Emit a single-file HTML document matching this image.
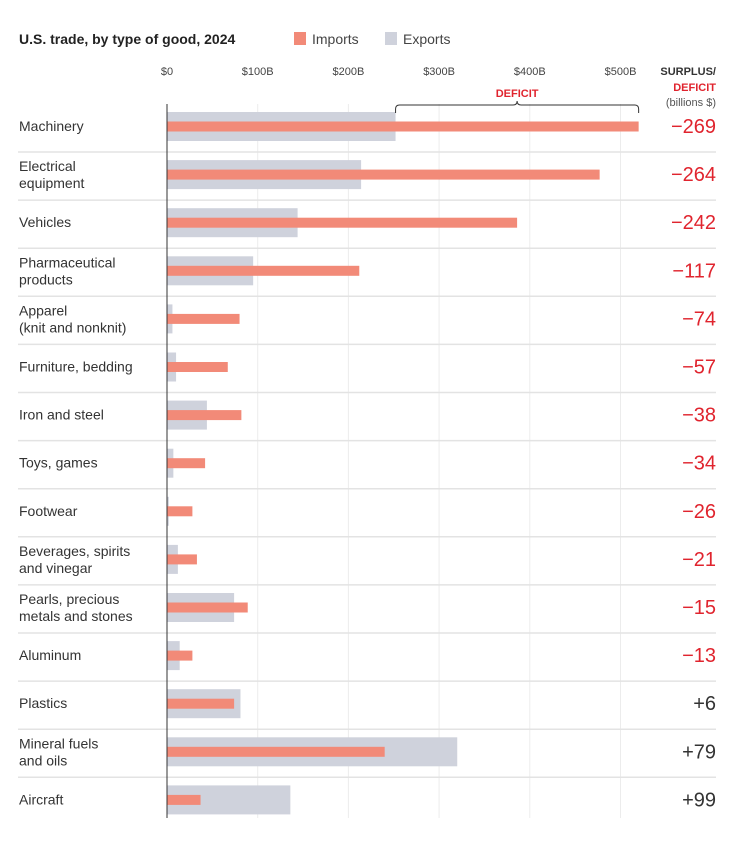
<!DOCTYPE html>
<html><head><meta charset="utf-8">
<style>
body{margin:0;background:#fff;width:749px;height:843px;overflow:hidden;font-family:"Liberation Sans",sans-serif;}
svg text{font-family:"Liberation Sans",sans-serif;}
</style></head>
<body>
<svg id="chart" width="749" height="843" viewBox="0 0 749 843">
<text x="19" y="44" font-size="14" font-weight="bold" fill="#222">U.S. trade, by type of good, 2024</text>
<rect x="294" y="32" width="12" height="13" fill="#f28a78"/>
<text x="312" y="44" font-size="14" fill="#444">Imports</text>
<rect x="385" y="32" width="12" height="13" fill="#cfd2dc"/>
<text x="403" y="44" font-size="14" fill="#444">Exports</text>
<text x="716" y="75" font-size="11" font-weight="bold" text-anchor="end" fill="#333">SURPLUS/</text>
<text x="716" y="91" font-size="11" font-weight="bold" text-anchor="end" fill="#e0242e">DEFICIT</text>
<text x="716" y="106" font-size="11" text-anchor="end" fill="#555">(billions $)</text>
<g id="grid"></g><g id="rows"></g>
</svg>
<script>
const categories=["Machinery","Electrical|equipment","Vehicles","Pharmaceutical|products","Apparel|(knit and nonknit)","Furniture, bedding","Iron and steel","Toys, games","Footwear","Beverages, spirits|and vinegar","Pearls, precious|metals and stones","Aluminum","Plastics","Mineral fuels|and oils","Aircraft"];
const imports=[520,477,386,212,80,67,82,42,28,33,89,28,74,240,37];
const exports=[252,214,144,95,6,10,44,7,2,12,74,14,81,320,136];
const balances=[-269,-264,-242,-117,-74,-57,-38,-34,-26,-21,-15,-13,6,79,99];
const ticks=[0,100,200,300,400,500];
const tickLabels=["$0","$100B","$200B","$300B","$400B","$500B"];
const NS="http://www.w3.org/2000/svg";
const x=v=>167+v*0.907;
const rowY=i=>104+i*48.1;
function mk(t,a,p){const e=document.createElementNS(NS,t);for(const k in a)e.setAttribute(k,a[k]);p.appendChild(e);return e;}
const g=document.getElementById('grid'),r=document.getElementById('rows');
ticks.forEach((t,i)=>{
 if(t>0){const l=mk('line',{x1:x(t),x2:x(t),y1:104,y2:818,stroke:'#ececec','stroke-width':1},g);
 
 }
 const tx=mk('text',{x:x(t),y:75,'font-size':11,'text-anchor':'middle',fill:'#444'},g);tx.textContent=tickLabels[i];
 
 
});
categories.forEach((c,i)=>{
 const y0=rowY(i),cy=y0+22;
 const gr=mk('g',{},r);
 
 
 const eb=mk('rect',{x:x(0),y:cy-14,width:x(exports[i])-x(0),height:29,fill:'#cfd2dc'},gr);
 
 
 const ib=mk('rect',{x:x(0),y:cy-4.5,width:x(imports[i])-x(0),height:10,fill:'#f28a78'},gr);
 
 
 const parts=c.split('|');
 const lt=mk('text',{x:19,'font-size':14,fill:'#333'},gr);
 
 
 parts.forEach((p,k)=>{const ts=mk('tspan',{x:19,y:parts.length==1?cy+5:cy-3+k*17},lt);ts.textContent=p;});
 const b=balances[i];
 const vt=mk('text',{x:716,y:cy+7,'font-size':20,'text-anchor':'end',fill:b<0?'#e0242e':'#333'},gr);
 vt.textContent=(b<0?'\u2212':'+')+Math.abs(b);
 
 
 if(i<categories.length-1){const sl=mk('line',{x1:18,x2:716,y1:y0+48,y2:y0+48,stroke:'#e3e3e3','stroke-width':1.5},gr);
 
 }
});
const ax=mk('line',{x1:x(0),x2:x(0),y1:104,y2:818,stroke:'#333','stroke-width':1},r);


const bx1=x(exports[0]),bx2=x(imports[0]),bm=(bx1+bx2)/2;
const br=mk('path',{d:`M${bx1},113 v-4 q0,-4 4,-4 H${bm-4} q4,0 4,-4 q0,4 4,4 H${bx2-4} q4,0 4,4 v4`,fill:'none',stroke:'#333','stroke-width':1},r);


const dl=mk('text',{x:bm,y:97,'font-size':11,'font-weight':'bold','text-anchor':'middle',fill:'#e0242e'},r);
dl.textContent='DEFICIT';


</script>
</body></html>
